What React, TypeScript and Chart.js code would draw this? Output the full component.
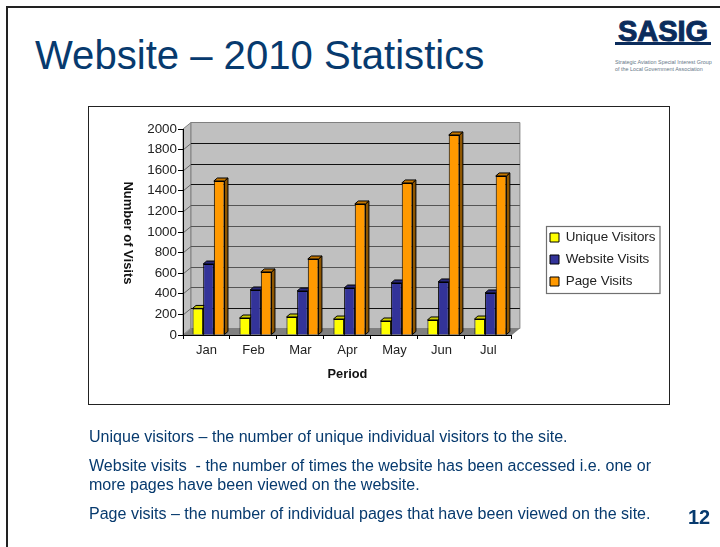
import React, { useEffect, useRef } from "react";
import { Chart, registerables } from "chart.js";

Chart.register(...registerables);

const categories = ["Jan", "Feb", "Mar", "Apr", "May", "Jun", "Jul"];
const uniqueVisitors = [258, 165, 175, 155, 136, 146, 155];
const websiteVisits = [689, 437, 427, 456, 505, 515, 408];
const pageVisits = [1495, 612, 738, 1272, 1476, 1942, 1544];

const FONT = '"Liberation Sans", Arial, sans-serif';
const NAVY = "#073a6e";
const DEPTH_X = 8;
const DEPTH_Y = 6.5;
const BAR_DX = 3.5;
const BAR_DY = 3;
const BAR_SHIFT = 2;
const sideColors = ["#999900", "#1f1f5c", "#8f5600"];
const topColors = ["#cccc00", "#29297a", "#c47600"];

function poly(ctx: CanvasRenderingContext2D, pts: number[][], fill: string, stroke?: string) {
  ctx.beginPath();
  pts.forEach((p, i) => (i ? ctx.lineTo(p[0], p[1]) : ctx.moveTo(p[0], p[1])));
  ctx.closePath();
  ctx.fillStyle = fill;
  ctx.fill();
  if (stroke) {
    ctx.strokeStyle = stroke;
    ctx.lineWidth = 1;
    ctx.stroke();
  }
}

const box3d = {
  id: "box3d",
  afterLayout(chart: any) {
    const lg = chart.legend;
    const h = lg.bottom - lg.top;
    lg.left = 550 - lg.options.labels.padding;
    lg.right = 662;
    lg.top = 259.5 - h / 2;
    lg.bottom = 259.5 + h / 2;
  },
  beforeDraw(chart: any) {
    const { ctx, chartArea: a, scales } = chart;
    const y = scales.y;
    const l = a.left, r = a.right, t = a.top, b = a.bottom;
    ctx.save();
    poly(ctx, [[l, t], [l + DEPTH_X, t - DEPTH_Y], [l + DEPTH_X, b - DEPTH_Y - 0.5], [l, b]], "#c0c0c0", "#808080");
    poly(ctx, [[l + DEPTH_X, t - DEPTH_Y], [r + DEPTH_X, t - DEPTH_Y], [r + DEPTH_X, b - DEPTH_Y], [l + DEPTH_X, b - DEPTH_Y]], "#c0c0c0", "#808080");
    poly(ctx, [[l, b], [r, b], [r + DEPTH_X, b - DEPTH_Y], [l + DEPTH_X, b - DEPTH_Y]], "#808080");
    y.ticks.forEach((tk: any) => {
      if (tk.value === 0 || tk.value === 2000) return;
      const py = Math.round(y.getPixelForValue(tk.value) - DEPTH_Y) + 0.5;
      const dark = tk.value >= 1400 || tk.value === 200;
      ctx.strokeStyle = dark ? "#111111" : "#555555";
      ctx.lineWidth = 1;
      ctx.beginPath();
      ctx.moveTo(l + DEPTH_X, py);
      ctx.lineTo(r + DEPTH_X, py);
      ctx.stroke();
      ctx.strokeStyle = "#666666";
      ctx.beginPath();
      ctx.moveTo(l, py + DEPTH_Y);
      ctx.lineTo(l + DEPTH_X, py);
      ctx.stroke();
    });
    ctx.restore();
  },
  beforeDatasetsDraw(chart: any) {
    const { ctx } = chart;
    ctx.save();
    ctx.translate(BAR_SHIFT, 0);
    chart.data.datasets.forEach((_: any, i: number) => {
      chart.getDatasetMeta(i).data.forEach((bar: any) => {
        const p = bar.getProps(["x", "y", "base", "width"], true);
        const x0 = p.x - p.width / 2;
        const x1 = p.x + p.width / 2;
        poly(ctx, [[x1, p.y], [x1 + BAR_DX, p.y - BAR_DY], [x1 + BAR_DX, p.base - BAR_DY], [x1, p.base]], sideColors[i], "#000000");
        poly(ctx, [[x0, p.y], [x0 + BAR_DX, p.y - BAR_DY], [x1 + BAR_DX, p.y - BAR_DY], [x1, p.y]], topColors[i], "#000000");
      });
    });
    ctx.restore();
    ctx.save();
    ctx.translate(BAR_SHIFT, 0);
  },
  afterDatasetsDraw(chart: any) {
    chart.ctx.restore();
  },
  afterDraw(chart: any) {
    const { ctx, chartArea: a } = chart;
    ctx.save();
    ctx.strokeStyle = "#707070";
    ctx.lineWidth = 1.2;
    ctx.strokeRect(546.5, 226.5, 113.5, 67);
    ctx.translate(128, (a.top + a.bottom) / 2 + 1);
    ctx.rotate(Math.PI / 2);
    ctx.font = `bold 13px ${FONT}`;
    ctx.fillStyle = "#111111";
    ctx.textAlign = "center";
    ctx.textBaseline = "middle";
    ctx.fillText("Number of Visits", 0, 0);
    ctx.restore();
  },
};

const pStyle: React.CSSProperties = {
  position: "absolute",
  left: 89,
  margin: 0,
  font: `16.05px/19px ${FONT}`,
  color: NAVY,
  whiteSpace: "nowrap",
};

export default function App() {
  const ref = useRef<HTMLCanvasElement>(null);
  useEffect(() => {
    const chart = new Chart(ref.current!, {
      type: "bar",
      data: {
        labels: categories,
        datasets: [
          { label: "Unique Visitors", data: uniqueVisitors, backgroundColor: "#ffff00" },
          { label: "Website Visits", data: websiteVisits, backgroundColor: "#333399" },
          { label: "Page Visits", data: pageVisits, backgroundColor: "#ff9900" },
        ].map((d) => ({ ...d, borderColor: "#000000", borderWidth: 1, categoryPercentage: 0.68, barPercentage: 1 })),
      },
      options: {
        responsive: false,
        animation: false,
        layout: { padding: { left: 100, top: 129, bottom: 157, right: 84 } },
        scales: {
          x: {
            afterFit: (s: any) => { s.height = 55; },
            grid: { drawOnChartArea: false, color: "#000000", tickLength: 4, offset: true },
            border: { color: "#000000" },
            ticks: { color: "#222222", font: { family: FONT, size: 13 }, padding: 4, maxRotation: 0 },
            title: { display: true, text: "Period", color: "#111111", font: { family: FONT, size: 12.8, weight: "bold" }, padding: { top: 2, bottom: 8 } },
          },
          y: {
            min: 0,
            max: 2000,
            afterFit: (s: any) => { s.width = 83; },
            grid: { drawOnChartArea: false, color: "#000000", tickLength: 5 },
            border: { color: "#000000" },
            ticks: { stepSize: 200, color: "#222222", font: { family: FONT, size: 13.4 }, padding: 1, callback: (v: any) => String(v) },
          },
        },
        plugins: {
          title: { display: false },
          tooltip: { enabled: false },
          legend: {
            position: "right",
            labels: {
              boxWidth: 9,
              boxHeight: 9,
              padding: 8.6,
              color: "#222222",
              font: { family: FONT, size: 13.4 },
            },
          },
        },
      },
      plugins: [box3d],
    } as any);
    return () => chart.destroy();
  }, []);

  return (
    <div style={{ position: "absolute", left: 0, top: 0, width: 720, height: 547, overflow: "hidden", background: "#ffffff" }}>
      <div style={{ position: "absolute", left: 6, top: 6, right: 0, height: 2, background: "#222222" }} />
      <div style={{ position: "absolute", left: 6, top: 6, bottom: 0, width: 2, background: "#222222" }} />
      <div style={{ position: "absolute", left: 35, top: 31.5, font: `40.1px/46px ${FONT}`, color: NAVY, whiteSpace: "nowrap" }}>
        Website – 2010 Statistics
      </div>
      <div style={{ position: "absolute", left: 612, top: 15, width: 102, textAlign: "center", font: `bold 29px/32px ${FONT}`, color: "#0b2c5c", whiteSpace: "nowrap", WebkitTextStroke: "1px #0b2c5c" }}>
        SASIG
      </div>
      <div style={{ position: "absolute", left: 615, top: 42, width: 96, height: 3, background: "#0b2c5c" }} />
      <div style={{ position: "absolute", left: 615, top: 59, font: `5.4px/6.5px ${FONT}`, color: "#667788", whiteSpace: "nowrap" }}>
        Strategic Aviation Special Interest Group<br />of the Local Government Association
      </div>
      <div style={{ position: "absolute", left: 88, top: 106, width: 580, height: 297, border: "1px solid #222222" }} />
      <canvas ref={ref} width={720} height={547} style={{ position: "absolute", left: 0, top: 0 }} />
      <p style={{ ...pStyle, top: 427 }}>Unique visitors – the number of unique individual visitors to the site.</p>
      <p style={{ ...pStyle, top: 456 }}>
        Website visits&nbsp; - the number of times the website has been accessed i.e. one or<br />
        more pages have been viewed on the website.
      </p>
      <p style={{ ...pStyle, top: 504 }}>Page visits – the number of individual pages that have been viewed on the site.</p>
      <div style={{ position: "absolute", left: 688, top: 507, font: `bold 20px/20px ${FONT}`, color: NAVY }}>12</div>
    </div>
  );
}
